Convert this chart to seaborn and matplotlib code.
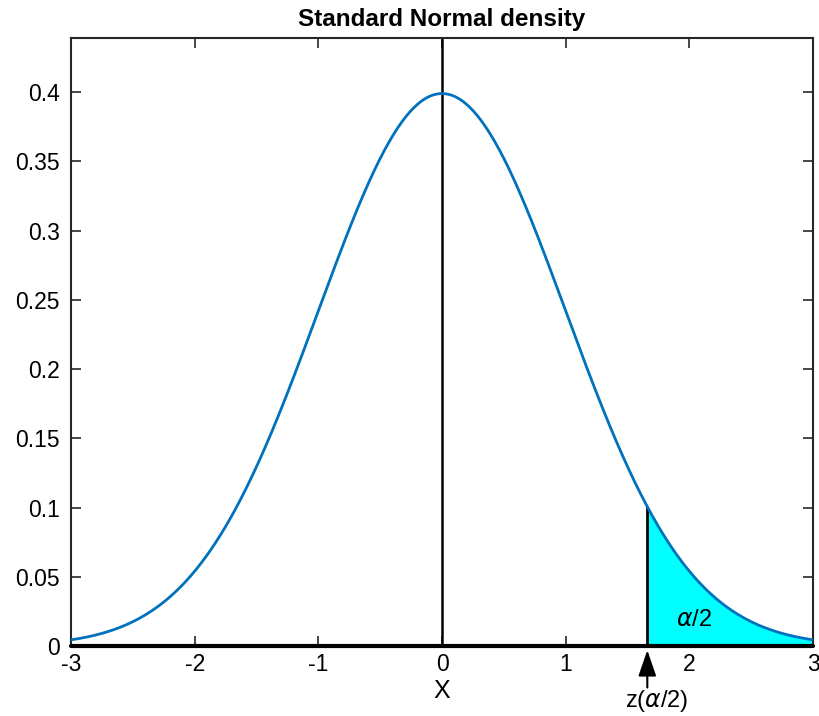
import numpy as np
import pandas as pd
import matplotlib
matplotlib.use("Agg")
import matplotlib.pyplot as plt
import seaborn as sns

# distribution parameters and the critical point
mu = 0.0
sigma = 1.0
x_range = [-3, 3]
z_crit = 1.66
x_ticks = [-3, -2, -1, 0, 1, 2, 3]
y_ticks = [0, 0.05, 0.1, 0.15, 0.2, 0.25, 0.3, 0.35, 0.4]
y_tick_labels = ["0", "0.05", "0.1", "0.15", "0.2", "0.25", "0.3", "0.35", "0.4"]

# the curve is the standard normal density itself
x = np.linspace(x_range[0], x_range[1], 601)
pdf = np.exp(-0.5 * ((x - mu) / sigma) ** 2) / (sigma * np.sqrt(2 * np.pi))
df = pd.DataFrame({"x": x, "density": pdf})

sns.set_style("ticks")
plt.rcParams["font.family"] = ["Liberation Sans", "DejaVu Sans"]
plt.rcParams["mathtext.fontset"] = "dejavusans"
plt.rcParams["axes.unicode_minus"] = False

fig = plt.figure(figsize=(8.19, 7.16), dpi=100)
ax = fig.add_axes([0.0867, 0.0978, 0.906, 0.849])

# shaded tail
tail = df[df.x >= z_crit]
ax.fill_between(tail.x, 0, tail.density, color="#00FFFF", lw=0, zorder=1)

sns.lineplot(data=df, x="x", y="density", color="#0072BD", lw=2, ax=ax, zorder=3)

z_pdf = np.exp(-0.5 * ((z_crit - mu) / sigma) ** 2) / (sigma * np.sqrt(2 * np.pi))
ax.plot([z_crit, z_crit], [0, z_pdf], color="black", lw=2, zorder=2)
ax.axvline(mu, color="black", lw=1.8, zorder=2)
ax.plot(x_range, [0, 0], color="black", lw=3, zorder=4, clip_on=False)

ax.text(2.04, 0.019, r"$\alpha$/2", fontsize=17, ha="center", va="center", color="black")
# arrow pointing up at the critical value, label below it
ax.annotate("", xy=(z_crit, -0.003), xytext=(z_crit, -0.030), annotation_clip=False,
            arrowprops=dict(arrowstyle="-|>,head_length=1.6,head_width=0.55",
                            color="black", lw=1.5, shrinkA=0, shrinkB=0))
ax.text(z_crit + 0.08, -0.0395, r"z($\alpha$/2)", fontsize=17, ha="center", va="center",
        color="black", clip_on=False)

ax.set_xlim(x_range)
ax.set_ylim(0, 0.439)
ax.set_xticks(x_ticks)
ax.set_yticks(y_ticks)
ax.set_yticklabels(y_tick_labels)
ax.set_xlabel("X", fontsize=18, labelpad=2, color="black")
ax.set_ylabel("")
ax.set_title("Standard Normal density", fontsize=17.5, fontweight="bold", pad=9, color="black")
ax.tick_params(direction="in", top=True, right=True, labelsize=16.5, length=7, width=1.2,
               pad=8, labelcolor="black")
ax.tick_params(axis="x", pad=5)
for s in ax.spines.values():
    s.set_linewidth(1.5)
    s.set_color("#262626")

fig.savefig("out.png", dpi=100)
